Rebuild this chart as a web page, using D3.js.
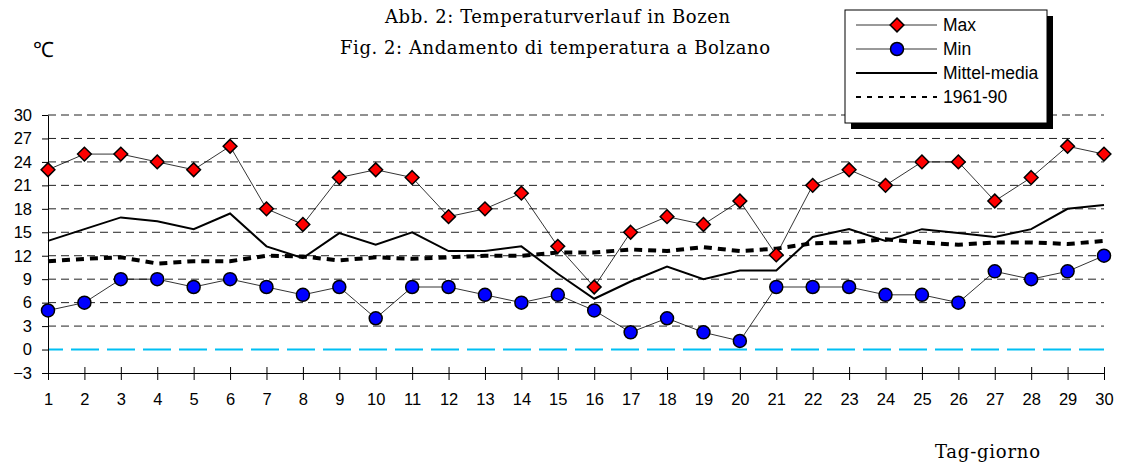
<!DOCTYPE html>
<html>
<head>
<meta charset="utf-8">
<script src="https://cdn.jsdelivr.net/npm/d3@7"></script>
<style>
  body { margin: 0; background: #fff; }
  svg { display: block; }
  .tick text { font-family: Arial, "Liberation Sans", sans-serif; font-size: 16px; fill: #000; }
  .serif { font-family: "DejaVu Serif", "Liberation Serif", serif; }
</style>
</head>
<body>
<div id="chart"></div>
<script>
// days 1..30
var days = d3.range(1, 31);
var maxTemp = [23, 25, 25, 24, 23, 26, 18, 16, 22, 23, 22, 17, 18, 20, 13.2, 8, 15, 17, 16, 19, 12.1, 21, 23, 21, 24, 24, 19, 22, 26, 25];
var minTemp = [5, 6, 9, 9, 8, 9, 8, 7, 8, 4, 8, 8, 7, 6, 7, 5, 2.2, 4, 2.2, 1.1, 8, 8, 8, 7, 7, 6, 10, 9, 10, 12];
var meanTemp = [13.9, 15.4, 16.9, 16.4, 15.4, 17.4, 13.2, 11.7, 14.9, 13.4, 15, 12.6, 12.6, 13.2, 9.7, 6.5, 8.7, 10.6, 9, 10.1, 10.1, 14.4, 15.4, 13.9, 15.4, 14.9, 14.4, 15.4, 18, 18.5];
var normTemp = [11.3, 11.6, 11.8, 11.0, 11.3, 11.3, 12.0, 11.9, 11.4, 11.8, 11.6, 11.8, 12.0, 12.0, 12.4, 12.4, 12.8, 12.6, 13.1, 12.6, 12.9, 13.6, 13.7, 14.1, 13.7, 13.4, 13.7, 13.7, 13.5, 13.9];
var yTicks = d3.range(-3, 31, 3);
var legendItems = ['Max', 'Min', 'Mittel-media', '1961-90'];

var W = 1123, H = 466;
var svg = d3.select('#chart').append('svg').attr('width', W).attr('height', H);

var x = d3.scaleLinear().domain([1, 30]).range([48, 1104]);
var y = d3.scaleLinear().domain([-3, 30]).range([373, 115]);

// grid
svg.append('g').selectAll('line').data(yTicks.filter(d => d > -3 && d != 0)).join('line')
  .attr('x1', x(1)).attr('x2', x(30)).attr('y1', d => y(d)).attr('y2', d => y(d))
  .attr('stroke', '#222').attr('stroke-width', 1).attr('stroke-dasharray', '8,5');

// zero line
svg.append('line').attr('x1', x(1)).attr('x2', x(30)).attr('y1', y(0)).attr('y2', y(0))
  .attr('stroke', '#00bff3').attr('stroke-width', 2).attr('stroke-dasharray', '28,8').attr('stroke-dashoffset', 13);

// axes
var yAxis = svg.append('g').attr('transform', 'translate(' + x(1) + ',0)')
  .call(d3.axisLeft(y).tickValues(yTicks).tickSize(6).tickSizeOuter(0).tickPadding(10));
var xAxis = svg.append('g').attr('transform', 'translate(0,' + y(-3) + ')')
  .call(d3.axisBottom(x).tickValues(days).tickSize(7).tickSizeOuter(0).tickPadding(13).tickFormat(d3.format('d')));
xAxis.selectAll('.tick line').attr('y1', -6);
svg.selectAll('.domain, .tick line').attr('stroke', '#000');
svg.selectAll('.tick text').style('font-size', '16.5px');

var line = d3.line().x((d, i) => x(days[i])).y(d => y(d));

svg.append('path').datum(normTemp).attr('d', line).attr('fill', 'none')
  .attr('stroke', '#000').attr('stroke-width', 4).attr('stroke-dasharray', '8,6');
svg.append('path').datum(meanTemp).attr('d', line).attr('fill', 'none')
  .attr('stroke', '#000').attr('stroke-width', 2);
svg.append('path').datum(maxTemp).attr('d', line).attr('fill', 'none')
  .attr('stroke', '#000').attr('stroke-width', 0.8);
svg.append('path').datum(minTemp).attr('d', line).attr('fill', 'none')
  .attr('stroke', '#000').attr('stroke-width', 0.8);

var diamond = d3.symbol().type(d3.symbolDiamond2).size(120);
svg.append('g').selectAll('path').data(maxTemp).join('path')
  .attr('d', diamond).attr('transform', (d, i) => 'translate(' + x(days[i]) + ',' + y(d) + ')')
  .attr('fill', '#ff0000').attr('stroke', '#000').attr('stroke-width', 1.5);
svg.append('g').selectAll('circle').data(minTemp).join('circle')
  .attr('cx', (d, i) => x(days[i])).attr('cy', d => y(d)).attr('r', 6.5)
  .attr('fill', '#0000ff').attr('stroke', '#000').attr('stroke-width', 1.5);

// titles
svg.append('text').attr('class', 'serif').attr('x', 385).attr('y', 23)
  .attr('font-size', 18).attr('textLength', 345).attr('lengthAdjust', 'spacing')
  .text('Abb. 2: Temperaturverlauf in Bozen');
svg.append('text').attr('class', 'serif').attr('x', 340).attr('y', 54)
  .attr('font-size', 18).attr('textLength', 430).attr('lengthAdjust', 'spacing')
  .text('Fig. 2: Andamento di temperatura a Bolzano');
svg.append('text').attr('x', 33).attr('y', 57)
  .style('font-family', 'Arial, "Liberation Sans", sans-serif').attr('font-size', 21).text('℃');
svg.append('text').attr('class', 'serif').attr('x', 935).attr('y', 458)
  .attr('font-size', 18).attr('textLength', 105).attr('lengthAdjust', 'spacing').text('Tag-giorno');

// legend
var lg = svg.append('g').attr('transform', 'translate(845,10)');
lg.append('rect').attr('x', 6).attr('y', 6).attr('width', 202).attr('height', 113).attr('fill', '#000');
lg.append('rect').attr('x', 0).attr('y', 0).attr('width', 202).attr('height', 113)
  .attr('fill', '#fff').attr('stroke', '#000').attr('stroke-width', 1);
legendItems.forEach(function (name, i) {
  var ly = 15 + i * 24;
  var ln = lg.append('line').attr('x1', 11).attr('x2', 92).attr('y1', ly).attr('y2', ly).attr('stroke', '#000');
  if (i == 0) {
    ln.attr('stroke-width', 0.8);
    lg.append('path').attr('d', diamond).attr('transform', 'translate(52,' + ly + ')')
      .attr('fill', '#ff0000').attr('stroke', '#000').attr('stroke-width', 1.5);
  } else if (i == 1) {
    ln.attr('stroke-width', 0.8);
    lg.append('circle').attr('cx', 52).attr('cy', ly).attr('r', 6.5)
      .attr('fill', '#0000ff').attr('stroke', '#000').attr('stroke-width', 1.5);
  } else if (i == 2) {
    ln.attr('stroke-width', 2);
  } else {
    ln.attr('stroke-width', 2).attr('stroke-dasharray', '5,6');
  }
  lg.append('text').attr('x', 98).attr('y', ly + 6)
    .style('font-family', 'Arial, "Liberation Sans", sans-serif').attr('font-size', 17.5).text(name);
});
</script>
</body>
</html>
